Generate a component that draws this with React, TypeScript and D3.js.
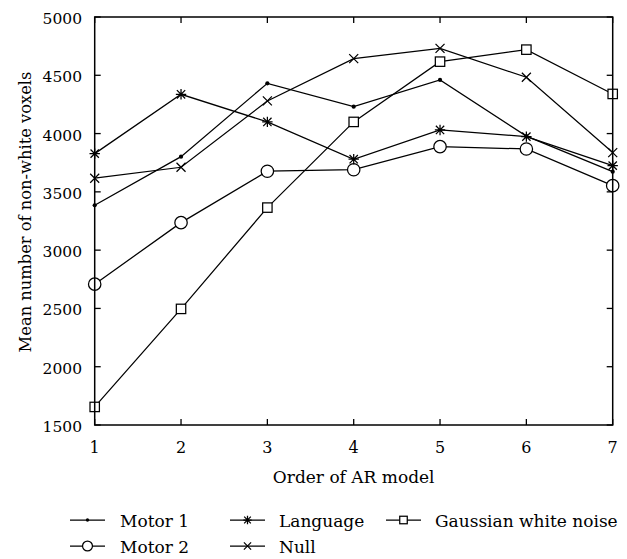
import React from "react";
import * as d3 from "d3";

// AR model order on the x axis
const orders = [1, 2, 3, 4, 5, 6, 7];

// Mean number of non-white voxels per series
const motor1 = [3385, 3802, 4431, 4231, 4460, 3978, 3673];
const motor2 = [2708, 3236, 3677, 3690, 3888, 3868, 3553];
const language = [3828, 4337, 4100, 3780, 4031, 3974, 3725];
const nullSeries = [3617, 3711, 4280, 4643, 4731, 4483, 3837];
const gaussian = [1655, 2496, 3365, 4100, 4617, 4720, 4340];

const yTicks = [1500, 2000, 2500, 3000, 3500, 4000, 4500, 5000];

const seriesNames = ["Motor 1", "Motor 2", "Language", "Null", "Gaussian white noise"];

type MarkerKind = "dot" | "circle" | "star" | "cross" | "square";

const series: { name: string; values: number[]; marker: MarkerKind }[] = [
  { name: seriesNames[0], values: motor1, marker: "dot" },
  { name: seriesNames[1], values: motor2, marker: "circle" },
  { name: seriesNames[2], values: language, marker: "star" },
  { name: seriesNames[3], values: nullSeries, marker: "cross" },
  { name: seriesNames[4], values: gaussian, marker: "square" },
];

const W = 627;
const H = 559;
const plot = { left: 94.7, right: 612.7, top: 17, bottom: 425 };
const FONT = "'DejaVu Serif', serif";

function Marker({ kind, x, y, s = 1 }: { kind: MarkerKind; x: number; y: number; s?: number }) {
  const sw = 1.25;
  switch (kind) {
    case "dot":
      return <circle cx={x} cy={y} r={2.1 * s} fill="#000" />;
    case "circle":
      return <circle cx={x} cy={y} r={6.2 * s} fill="#fff" stroke="#000" strokeWidth={sw} />;
    case "square": {
      const h = 4.7 * s;
      return <rect x={x - h} y={y - h} width={2 * h} height={2 * h} fill="#fff" stroke="#000" strokeWidth={sw} />;
    }
    case "cross": {
      const h = 4.5 * s;
      return (
        <path
          d={`M${x - h},${y - h}L${x + h},${y + h}M${x - h},${y + h}L${x + h},${y - h}`}
          stroke="#000"
          strokeWidth={sw}
          fill="none"
        />
      );
    }
    case "star": {
      const h = 5.2 * s;
      const d = h * 0.8;
      return (
        <path
          d={`M${x - h},${y}L${x + h},${y}M${x},${y - h}L${x},${y + h}M${x - d},${y - d}L${x + d},${y + d}M${x - d},${y + d}L${x + d},${y - d}`}
          stroke="#000"
          strokeWidth={sw}
          fill="none"
        />
      );
    }
  }
}

const legendItems = [
  { idx: 0, lineX0: 70, lineX1: 105, textX: 120, y: 520 },
  { idx: 1, lineX0: 70, lineX1: 105, textX: 120, y: 546 },
  { idx: 2, lineX0: 230, lineX1: 265, textX: 279, y: 520 },
  { idx: 3, lineX0: 230, lineX1: 265, textX: 279, y: 546 },
  { idx: 4, lineX0: 386, lineX1: 421, textX: 435, y: 520 },
];

const textStyle = { fontFamily: FONT };

export default function App() {
  const x = d3.scaleLinear().domain([1, 7]).range([plot.left, plot.right]);
  const y = d3.scaleLinear().domain([1500, 5000]).range([plot.bottom, plot.top]);
  const line = d3
    .line<number>()
    .x((_, i) => x(orders[i]))
    .y((v) => y(v));
  const tick = 6;

  return (
    <svg
      width={W}
      height={H}
      style={{ position: "absolute", left: 0, top: 0, background: "#fff" }}
    >
      <rect width={W} height={H} fill="#fff" />
      {/* ticks, mirrored on all four sides, pointing inward */}
      {orders.map((o) => (
        <g key={`xt${o}`} stroke="#000" strokeWidth={1.3}>
          <line x1={x(o)} x2={x(o)} y1={plot.bottom} y2={plot.bottom - tick} />
          <line x1={x(o)} x2={x(o)} y1={plot.top} y2={plot.top + tick} />
        </g>
      ))}
      {yTicks.map((t) => (
        <g key={`yt${t}`} stroke="#000" strokeWidth={1.3}>
          <line x1={plot.left} x2={plot.left + tick} y1={y(t)} y2={y(t)} />
          <line x1={plot.right} x2={plot.right - tick} y1={y(t)} y2={y(t)} />
        </g>
      ))}
      {orders.map((o) => (
        <text key={`xl${o}`} x={x(o)} y={453} fontSize={16} textAnchor="middle" fill="#000" style={textStyle}>
          {o}
        </text>
      ))}
      {yTicks.map((t) => (
        <text key={`yl${t}`} x={82} y={y(t) + 7} fontSize={15.5} textAnchor="end" fill="#000" style={textStyle}>
          {t}
        </text>
      ))}
      <text
        x={(plot.left + plot.right) / 2}
        y={483}
        fontSize={17}
        textAnchor="middle"
        fill="#000"
        style={textStyle}
      >
        Order of AR model
      </text>
      <text
        transform={`translate(31,212) rotate(-90)`}
        fontSize={16.3}
        textAnchor="middle"
        fill="#000"
        style={textStyle}
      >
        Mean number of non-white voxels
      </text>

      {/* series lines and markers */}
      {series.map((s) => (
        <g key={s.name}>
          <path d={line(s.values) || ""} fill="none" stroke="#000" strokeWidth={1.25} />
          {s.values.map((v, i) => (
            <Marker key={i} kind={s.marker} x={x(orders[i])} y={y(v)} />
          ))}
        </g>
      ))}

      {/* frame */}
      <rect
        x={plot.left}
        y={plot.top}
        width={plot.right - plot.left}
        height={plot.bottom - plot.top}
        fill="none"
        stroke="#000"
        strokeWidth={1.5}
      />

      {/* legend */}
      {legendItems.map((it) => {
        const s = series[it.idx];
        return (
          <g key={`lg${it.idx}`}>
            <line x1={it.lineX0} x2={it.lineX1} y1={it.y} y2={it.y} stroke="#000" strokeWidth={1.25} />
            <Marker kind={s.marker} x={(it.lineX0 + it.lineX1) / 2} y={it.y} s={0.8} />
            <text x={it.textX} y={it.y + 6.5} fontSize={17} fill="#000" style={textStyle}>
              {s.name}
            </text>
          </g>
        );
      })}
    </svg>
  );
}
